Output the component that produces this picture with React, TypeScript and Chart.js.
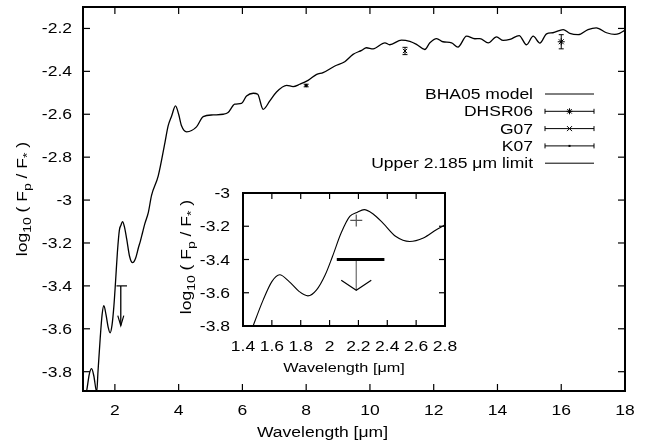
import React, { useEffect, useRef } from "react";
import { Chart, registerables } from "chart.js";

Chart.register(...registerables);

// ---- data ----
const modelWave = [
  1.0, 1.06, 1.13, 1.2, 1.27, 1.34, 1.43, 1.47, 1.54, 1.6, 1.654, 1.72, 1.79, 1.85, 1.91, 1.97,
  2.02, 2.08, 2.14, 2.19, 2.24, 2.3, 2.37, 2.46, 2.555, 2.65, 2.74, 2.8, 2.87, 2.94, 3.05, 3.15,
  3.36, 3.57, 3.67, 3.78, 3.9, 4.0, 4.09, 4.25, 4.56, 4.77, 5.08, 5.4, 5.55, 5.76, 5.97, 6.13,
  6.34, 6.48, 6.65, 6.86, 7.07, 7.39, 7.59, 7.8, 8.06, 8.33, 8.53, 8.9, 9.21, 9.47, 9.74, 9.89,
  10.1, 10.47, 10.62, 10.99, 11.25, 11.46, 11.72, 11.88, 12.09, 12.29, 12.56, 12.76, 13.03,
  13.29, 13.45, 13.71, 13.97, 14.18, 14.39, 14.68, 14.91, 15.12, 15.33, 15.54, 15.74, 16.06,
  16.27, 16.53, 16.84, 17.1, 17.42, 17.68, 17.83, 18.0,
];
const modelFlux = [
  -3.98, -3.94, -3.875, -3.81, -3.786, -3.82, -3.895, -3.8, -3.643, -3.533, -3.492, -3.533,
  -3.593, -3.619, -3.583, -3.492, -3.382, -3.241, -3.141, -3.117, -3.1, -3.125, -3.181, -3.262,
  -3.292, -3.271, -3.221, -3.191, -3.15, -3.11, -3.057, -2.978, -2.887, -2.732, -2.654, -2.608,
  -2.561, -2.6, -2.654, -2.682, -2.659, -2.611, -2.603, -2.6, -2.592, -2.553, -2.549, -2.515,
  -2.502, -2.507, -2.577, -2.538, -2.496, -2.465, -2.471, -2.46, -2.442, -2.414, -2.406, -2.375,
  -2.355, -2.321, -2.302, -2.29, -2.295, -2.267, -2.276, -2.254, -2.26, -2.274, -2.298, -2.267,
  -2.247, -2.262, -2.267, -2.287, -2.236, -2.248, -2.247, -2.267, -2.239, -2.256, -2.251, -2.233,
  -2.276, -2.236, -2.268, -2.225, -2.22, -2.205, -2.223, -2.229, -2.205, -2.197, -2.22, -2.228,
  -2.223, -2.208,
];

const dhsrWave = [16.0];
const dhsrFlux = [-2.262];
const dhsrErr = [0.033];
const g07Wave = [11.1];
const g07Flux = [-2.305];
const g07Err = [0.017];
const k07Wave = [8.0];
const k07Flux = [-2.466];
const k07Err = [0.006];

const limitWave = 2.185;
const limitFrom = 2.05;
const limitTo = 2.38;
const limitFlux = -3.4;
const limitTip = -3.585;

const insetPointWave = [2.185];
const insetPointFlux = [-3.165];

const mainXTicks = [2, 4, 6, 8, 10, 12, 14, 16, 18];
const mainXLabels = ["2", "4", "6", "8", "10", "12", "14", "16", "18"];
const mainYTicks = [-2.2, -2.4, -2.6, -2.8, -3.0, -3.2, -3.4, -3.6, -3.8];
const mainYLabels = ["-2.2", "-2.4", "-2.6", "-2.8", "-3", "-3.2", "-3.4", "-3.6", "-3.8"];
const insetXTicks = [1.4, 1.6, 1.8, 2.0, 2.2, 2.4, 2.6, 2.8];
const insetXLabels = ["1.4", "1.6", "1.8", "2", "2.2", "2.4", "2.6", "2.8"];
const insetYTicks = [-3.0, -3.2, -3.4, -3.6, -3.8];
const insetYLabels = ["-3", "-3.2", "-3.4", "-3.6", "-3.8"];

const legendLabels = ["BHA05 model", "DHSR06", "G07", "K07", "Upper 2.185 \u03bcm limit"];
const xTitle = "Wavelength [\u03bcm]";

// ---- helpers ----
type Part = { t: string; sub?: boolean };
const FONT = '"Liberation Sans", Arial, sans-serif';
const STRETCH = 1.25;

function drawParts(
  ctx: CanvasRenderingContext2D,
  parts: Part[],
  x: number,
  y: number,
  size: number,
  align: "left" | "center" | "right",
  rot = 0
) {
  ctx.save();
  ctx.translate(x, y);
  ctx.rotate(rot);
  ctx.scale(STRETCH, 1);
  ctx.fillStyle = "#000";
  ctx.textBaseline = "alphabetic";
  ctx.textAlign = "left";
  const widths = parts.map((p) => {
    ctx.font = `${p.sub ? size * 0.8 : size}px ${FONT}`;
    return ctx.measureText(p.t).width;
  });
  const total = widths.reduce((a, b) => a + b, 0);
  let cx = align === "left" ? 0 : align === "center" ? -total / 2 : -total;
  parts.forEach((p, i) => {
    ctx.font = `${p.sub ? size * 0.8 : size}px ${FONT}`;
    ctx.fillText(p.t, cx, p.sub ? size * 0.3 : 0);
    cx += widths[i];
  });
  ctx.restore();
}

const yTitleParts: Part[] = [
  { t: "log" },
  { t: "10", sub: true },
  { t: " ( F" },
  { t: "p", sub: true },
  { t: " / F" },
  { t: "*", sub: true },
  { t: " )" },
];

function line(ctx: CanvasRenderingContext2D, x1: number, y1: number, x2: number, y2: number) {
  ctx.beginPath();
  ctx.moveTo(x1, y1);
  ctx.lineTo(x2, y2);
  ctx.stroke();
}

function frameAndTicks(
  chart: any,
  xt: number[],
  yt: number[],
  tickLen: number
) {
  const { ctx, chartArea: a, scales } = chart;
  const x = scales.x;
  const y = scales.y;
  ctx.save();
  ctx.strokeStyle = "#000";
  ctx.lineWidth = 1.2;
  xt.forEach((v) => {
    const px = x.getPixelForValue(v);
    line(ctx, px, a.bottom, px, a.bottom - tickLen);
    line(ctx, px, a.top, px, a.top + tickLen);
  });
  yt.forEach((v) => {
    const py = y.getPixelForValue(v);
    line(ctx, a.left, py, a.left + tickLen, py);
    line(ctx, a.right, py, a.right - tickLen, py);
  });
  ctx.lineWidth = 2;
  ctx.strokeRect(a.left, a.top, a.right - a.left, a.bottom - a.top);
  ctx.restore();
}

function errorBars(chart: any, xs: number[], ys: number[], es: number[], cap: number) {
  const { ctx, scales } = chart;
  ctx.save();
  ctx.strokeStyle = "#000";
  ctx.lineWidth = 1;
  xs.forEach((xv, i) => {
    const px = scales.x.getPixelForValue(xv);
    const p1 = scales.y.getPixelForValue(ys[i] + es[i]);
    const p2 = scales.y.getPixelForValue(ys[i] - es[i]);
    line(ctx, px, p1, px, p2);
    line(ctx, px - cap, p1, px + cap, p1);
    line(ctx, px - cap, p2, px + cap, p2);
  });
  ctx.restore();
}

function upperLimit(
  chart: any,
  barWidth: number,
  shaftColor: string,
  headW: number,
  headH: number
) {
  const { ctx, scales } = chart;
  const x = scales.x;
  const y = scales.y;
  const px = x.getPixelForValue(limitWave);
  const py = y.getPixelForValue(limitFlux);
  const tip = y.getPixelForValue(limitTip);
  ctx.save();
  ctx.strokeStyle = shaftColor;
  ctx.lineWidth = 1.3;
  line(ctx, px, py, px, tip);
  ctx.strokeStyle = "#000";
  ctx.lineWidth = 1.2;
  ctx.beginPath();
  ctx.moveTo(px - headW, tip - headH);
  ctx.lineTo(px, tip);
  ctx.lineTo(px + headW, tip - headH);
  ctx.stroke();
  ctx.lineWidth = barWidth;
  line(ctx, x.getPixelForValue(limitFrom), py, x.getPixelForValue(limitTo), py);
  ctx.restore();
}

function starMark(ctx: CanvasRenderingContext2D, x: number, y: number, r: number) {
  line(ctx, x - r, y, x + r, y);
  line(ctx, x, y - r, x, y + r);
  const d = r * 0.75;
  line(ctx, x - d, y - d, x + d, y + d);
  line(ctx, x - d, y + d, x + d, y - d);
}
function crossMark(ctx: CanvasRenderingContext2D, x: number, y: number, r: number) {
  line(ctx, x - r, y - r, x + r, y + r);
  line(ctx, x - r, y + r, x + r, y - r);
}

const pts = (xs: number[], ys: number[]) => xs.map((v, i) => ({ x: v, y: ys[i] }));

export default function App() {
  const mainRef = useRef<HTMLCanvasElement>(null);
  const insetRef = useRef<HTMLCanvasElement>(null);

  useEffect(() => {
    const mainPlugin = {
      id: "mainDecor",
      afterDraw(chart: any) {
        const { ctx, chartArea: a, scales } = chart;
        frameAndTicks(chart, mainXTicks, mainYTicks, 7);
        errorBars(chart, dhsrWave, dhsrFlux, dhsrErr, 2.5);
        errorBars(chart, g07Wave, g07Flux, g07Err, 2.5);
        errorBars(chart, k07Wave, k07Flux, k07Err, 2.5);
        upperLimit(chart, 1.2, "#000", 3, 10);
        // tick labels
        mainXTicks.forEach((v, i) => {
          drawParts(ctx, [{ t: mainXLabels[i] }], scales.x.getPixelForValue(v), a.bottom + 24, 14, "center");
        });
        mainYTicks.forEach((v, i) => {
          drawParts(ctx, [{ t: mainYLabels[i] }], 72, scales.y.getPixelForValue(v) + 5, 14, "right");
        });
        // titles
        drawParts(ctx, [{ t: xTitle }], 322.5, 436.5, 14, "center");
        drawParts(ctx, yTitleParts, 27, (a.top + a.bottom) / 2, 14, "center", -Math.PI / 2);
        // legend
        const tx = 533;
        const sx1 = 545;
        const sx2 = 594;
        const sm = (sx1 + sx2) / 2;
        ctx.save();
        ctx.strokeStyle = "#000";
        ctx.fillStyle = "#000";
        ctx.lineWidth = 1;
        legendLabels.forEach((lab, i) => {
          const cy = 94 + i * 17.3;
          drawParts(ctx, [{ t: lab }], tx, cy + 5, 14, "right");
          line(ctx, sx1, cy, sx2, cy);
          if (i >= 1 && i <= 3) {
            line(ctx, sx1, cy - 2.5, sx1, cy + 2.5);
            line(ctx, sx2, cy - 2.5, sx2, cy + 2.5);
            if (i === 1) starMark(ctx, sm, cy, 3);
            if (i === 2) crossMark(ctx, sm, cy, 2.5);
            if (i === 3) ctx.fillRect(sm - 1, cy - 1, 2, 2);
          }
        });
        ctx.restore();
      },
    };

    const insetPlugin = {
      id: "insetDecor",
      afterDraw(chart: any) {
        const { ctx, chartArea: a, scales } = chart;
        upperLimit(chart, 3, "#777", 15, 10);
        frameAndTicks(chart, insetXTicks, insetYTicks, 6);
        insetXTicks.forEach((v, i) => {
          drawParts(ctx, [{ t: insetXLabels[i] }], scales.x.getPixelForValue(v), a.bottom + 24.5, 14, "center");
        });
        insetYTicks.forEach((v, i) => {
          drawParts(ctx, [{ t: insetYLabels[i] }], 70, scales.y.getPixelForValue(v) + 5, 14, "right");
        });
        drawParts(ctx, [{ t: xTitle }], (a.left + a.right) / 2, 192, 13, "center");
        drawParts(ctx, yTitleParts, 30.5, 77, 14, "center", -Math.PI / 2);
      },
    };

    const model = {
      type: "line",
      data: pts(modelWave, modelFlux),
      borderColor: "#000",
      borderWidth: 1.3,
      pointRadius: 0,
      cubicInterpolationMode: "monotone",
      fill: false,
    };

    const mainChart = new Chart(mainRef.current as HTMLCanvasElement, {
      type: "line",
      data: {
        datasets: [
          model as any,
          {
            data: pts(dhsrWave, dhsrFlux),
            showLine: false,
            pointStyle: "star",
            pointRadius: 3.5,
            borderColor: "#000",
            backgroundColor: "#000",
            borderWidth: 1,
          },
          {
            data: pts(g07Wave, g07Flux),
            showLine: false,
            pointStyle: "crossRot",
            pointRadius: 3,
            borderColor: "#000",
            borderWidth: 1,
          },
          {
            data: pts(k07Wave, k07Flux),
            showLine: false,
            pointStyle: "circle",
            pointRadius: 1.2,
            borderColor: "#000",
            backgroundColor: "#000",
            borderWidth: 1,
          },
        ],
      },
      options: {
        animation: false,
        responsive: false,
        events: [],
        layout: { padding: { left: 83, top: 7, right: 20, bottom: 50 } },
        plugins: { legend: { display: false }, tooltip: { enabled: false } },
        scales: {
          x: { type: "linear", min: 1, max: 18, display: false },
          y: { type: "linear", min: -3.89, max: -2.1, display: false },
        },
      },
      plugins: [mainPlugin],
    });

    const insetChart = new Chart(insetRef.current as HTMLCanvasElement, {
      type: "line",
      data: {
        datasets: [
          { ...(model as any), borderWidth: 1.1 },
          {
            data: pts(insetPointWave, insetPointFlux),
            showLine: false,
            pointStyle: "cross",
            pointRadius: 6,
            borderColor: "#555",
            borderWidth: 1.2,
          },
        ],
      },
      options: {
        animation: false,
        responsive: false,
        events: [],
        layout: { padding: { left: 83, top: 13, right: 15, bottom: 54 } },
        plugins: { legend: { display: false }, tooltip: { enabled: false } },
        scales: {
          x: { type: "linear", min: 1.4, max: 2.8, display: false },
          y: { type: "linear", min: -3.8, max: -3.0, display: false },
        },
      },
      plugins: [insetPlugin],
    });

    return () => {
      mainChart.destroy();
      insetChart.destroy();
    };
  }, []);

  return (
    <div style={{ position: "absolute", left: 0, top: 0, width: 645, height: 441, background: "#fff" }}>
      <canvas ref={mainRef} width={645} height={441} style={{ position: "absolute", left: 0, top: 0 }} />
      <canvas ref={insetRef} width={300} height={200} style={{ position: "absolute", left: 160, top: 180 }} />
    </div>
  );
}
